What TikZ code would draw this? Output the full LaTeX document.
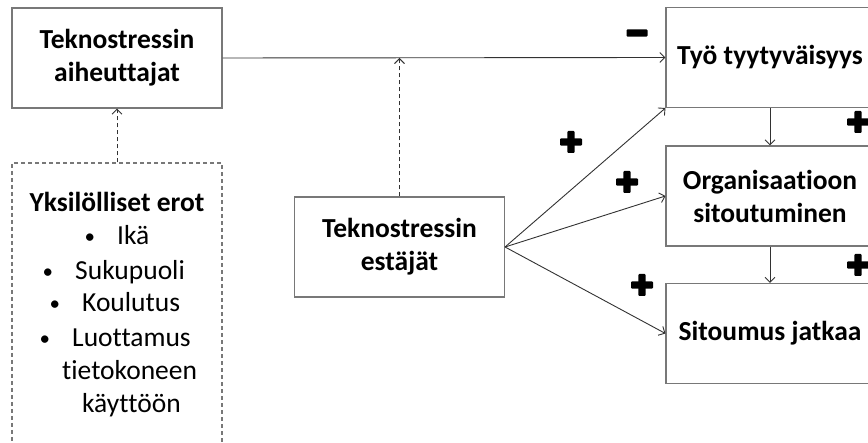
\documentclass[tikz,border=0pt]{standalone}
\usepackage{fontspec}
\setmainfont{Carlito}[Ligatures={NoCommon}]
\usetikzlibrary{arrows.meta}
\definecolor{boxgray}{RGB}{120,120,120}
\definecolor{arrgray}{RGB}{50,50,50}
\newcommand{\blt}{\llap{{\fontsize{21}{21}\selectfont\raisebox{1pt}{•}}\hspace{22pt}}}
\begin{document}
\begin{tikzpicture}[x=1pt,y=-1pt,
  lbl/.style={font=\bfseries\fontsize{27.5}{33}\selectfont},
  txt/.style={font=\fontsize{27.5}{33}\selectfont, inner sep=0pt},
  box/.style={draw=boxgray, line width=1.1pt, minimum width=210pt, minimum height=100pt,
              inner sep=0pt, align=center, lbl},
  dbox/.style={draw=boxgray, line width=1.1pt, dash pattern=on 4pt off 3pt,
               minimum width=210pt, minimum height=300pt, inner sep=0pt},
  arr/.style={draw=arrgray, line width=0.9pt, -{Straight Barb[length=5pt,width=10pt]}},
  darr/.style={arr, dash pattern=on 4pt off 3pt},
  plusmark/.pic={\fill[rounded corners=1pt] (-11,-3.6) rectangle (11,3.6);
                 \fill[rounded corners=1pt] (-3.6,-11) rectangle (3.6,11);},
  minusmark/.pic={\fill[rounded corners=1pt] (-10.5,-3.6) rectangle (10.5,3.6);}
]
\useasboundingbox (0,0) rectangle (868,443);
\clip (0,0) rectangle (868,443);

% boxes
\node[box] (aih) at (117,58) {Teknostressin\\aiheuttajat};
\node[dbox] (erot) at (117,313) {};
\node[box] (est) at (399.5,247) {Teknostressin\\estäjät};
\node[box, minimum width=208pt] (tyo) at (770,57.5) {Työ tyytyväisyys};
\node[box, minimum width=208pt] (org) at (770,196) {Organisaatioon\\sitoutuminen};
\node[box, minimum width=208pt] (sit) at (770,333.5) {Sitoumus jatkaa};

% text of the dashed box
\node[txt, lbl, anchor=base] (t0) at (117,212) {Yksilölliset erot};
\node[txt, anchor=base west] (t1) at (117,245) {\blt Ikä};
\node[txt, anchor=base west] (t2) at (75,280) {\blt Sukupuoli};
\node[txt, anchor=base west] (t3) at (82,312) {\blt Koulutus};
\node[txt, anchor=base west] (t4) at (72,347) {\blt Luottamus};
\node[txt, anchor=base west] (t5) at (62,380) {tietokoneen};
\node[txt, anchor=base west] (t6) at (82,413) {käyttöön};

% connectors
\draw[arr] (aih.east) -- (tyo.west);
\draw[darr] (erot.north) -- (aih.south);
\coordinate (hit) at (est.north |- aih.east);
\draw[darr] (est.north) -- (hit);
\draw[arr] (est.east) -- (tyo.south west);
\draw[arr] (est.east) -- (org.west);
\draw[arr] (est.east) -- (sit.west);
\draw[arr] (tyo.south) -- (org.north);
\draw[arr] (org.south) -- (sit.north);

% signs
\pic at (637,33) {minusmark};
\pic at (571,142) {plusmark};
\pic at (627,182) {plusmark};
\pic at (642,285) {plusmark};
\pic at (858,122) {plusmark};
\pic at (858,265) {plusmark};
\end{tikzpicture}
\end{document}
